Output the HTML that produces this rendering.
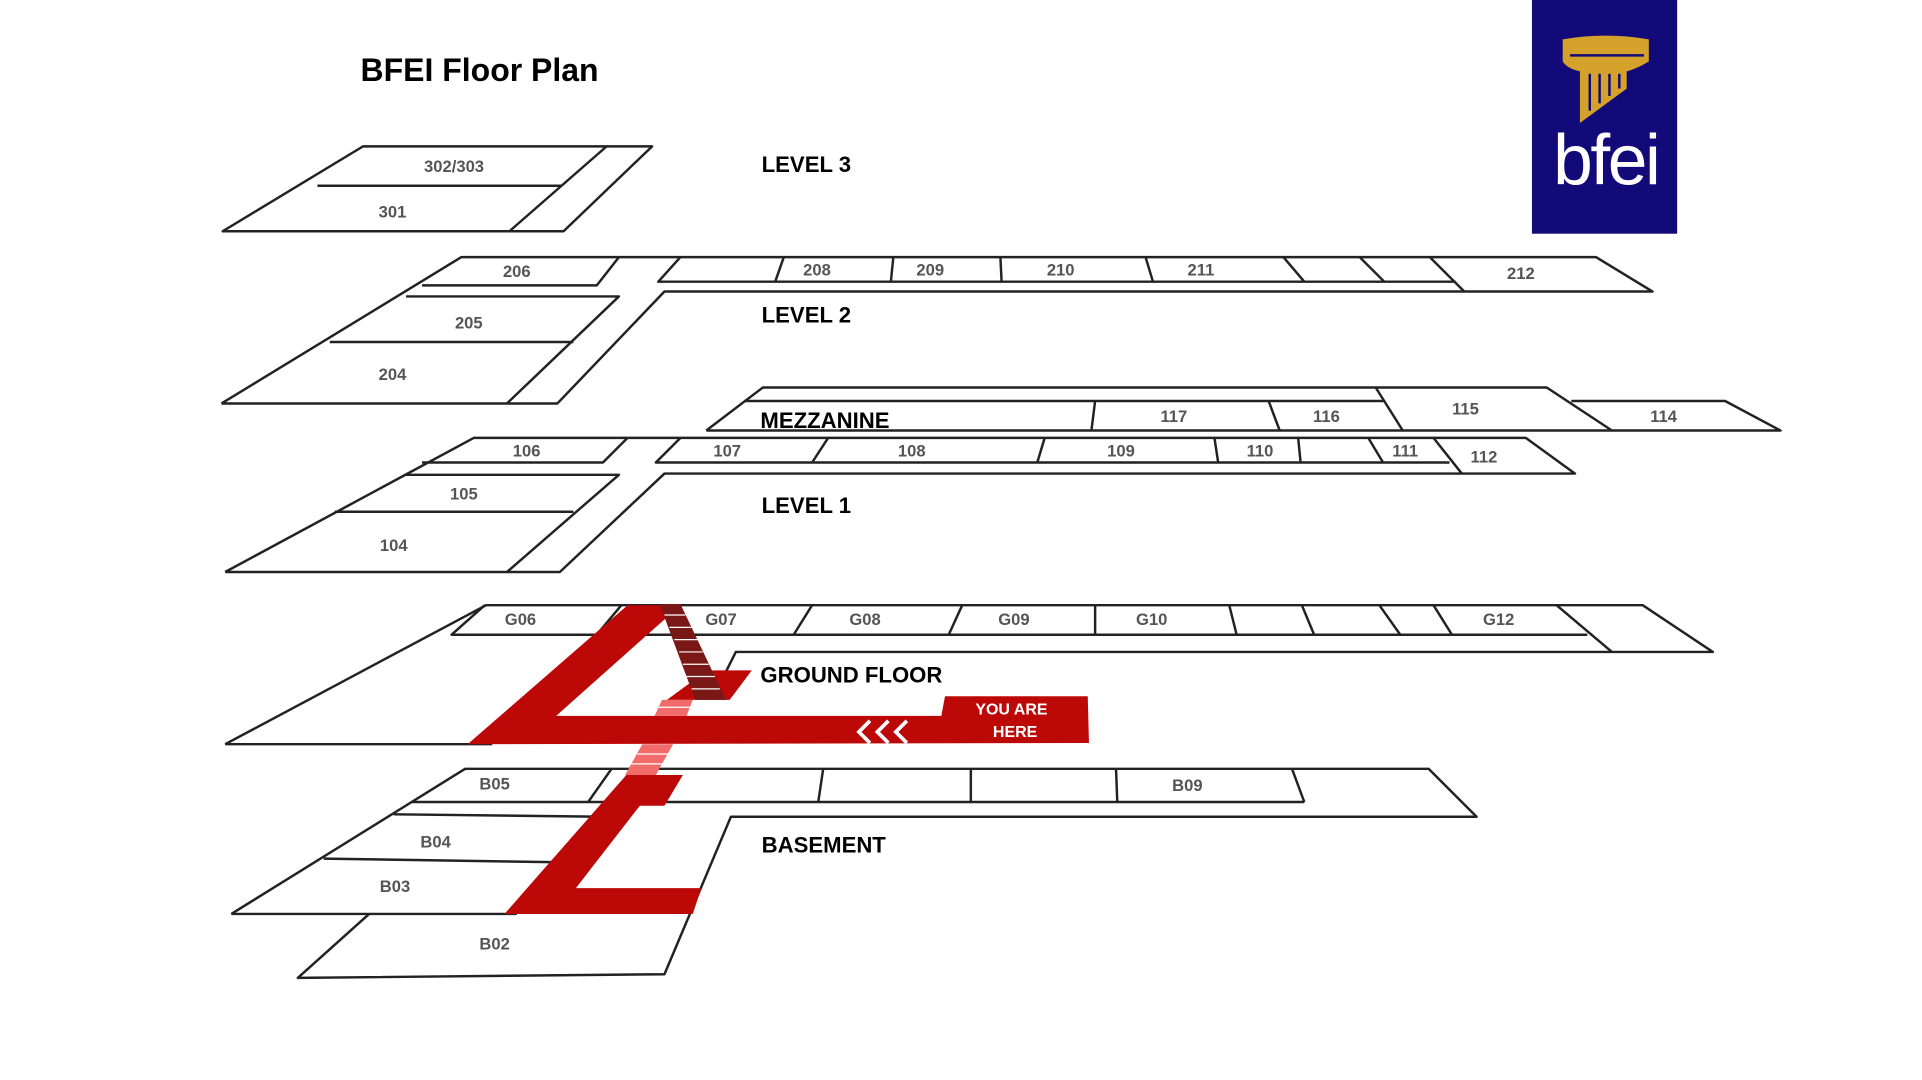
<!DOCTYPE html>
<html><head><meta charset="utf-8"><style>
html,body{margin:0;padding:0;background:#fff;}
svg{display:block;}
.l{fill:none;stroke:#222;stroke-width:2;stroke-linejoin:round;}
.t{font-family:"Liberation Sans",sans-serif;font-size:13.5px;font-weight:bold;fill:#555;text-anchor:middle;}
.h{font-family:"Liberation Sans",sans-serif;font-size:18px;font-weight:bold;fill:#000;}
</style></head><body>
<svg width="1922" height="1080" viewBox="0 0 1562 878" preserveAspectRatio="none" xmlns="http://www.w3.org/2000/svg">
<text x="293" y="66" class="h" style="font-size:26px">BFEI Floor Plan</text>

<!-- logo -->
<rect x="1245" y="0" width="118" height="190" fill="#120a78"/>
<path d="M1270 32 Q1305 26 1340 32 L1340 50 Q1330 56 1322 58 L1322 72 L1284 100 L1284 58 Q1274 56 1270 50 Z" fill="#d4a12a"/>
<g stroke="#120a78" stroke-width="2"><line x1="1292" y1="60" x2="1292" y2="90"/><line x1="1300" y1="60" x2="1300" y2="84"/><line x1="1308" y1="60" x2="1308" y2="78"/><line x1="1316" y1="60" x2="1316" y2="72"/><line x1="1276" y1="45" x2="1336" y2="45"/></g>
<text x="1305" y="150" font-family="'Liberation Sans',sans-serif" font-size="58" fill="#fff" text-anchor="middle" letter-spacing="-2">bfei</text>

<!-- LEVEL 3 -->
<polygon class="l" points="181,188 295,119 530,119 458,188"/>
<line class="l" x1="258" y1="151" x2="456" y2="151"/>
<line class="l" x1="493" y1="119" x2="414" y2="188"/>
<text x="369" y="140" class="t">302/303</text><text x="319" y="177" class="t">301</text>
<text x="619" y="140" class="h">LEVEL 3</text>

<!-- LEVEL 2 -->
<polyline class="l" points="180,328 375,209 1297,209 1343,237 540,237 453,328 180,328"/>
<polyline class="l" points="343,232 485,232 503,209"/>
<polyline class="l" points="330,241 503,241 412,328"/>
<line class="l" x1="268" y1="278" x2="466" y2="278"/>
<polyline class="l" points="553,209 535,229 1183,229"/>
<g class="l"><line x1="637" y1="209" x2="630" y2="229"/><line x1="726" y1="209" x2="724" y2="229"/><line x1="813" y1="209" x2="814" y2="229"/><line x1="931" y1="209" x2="937" y2="229"/><line x1="1043" y1="209" x2="1060" y2="229"/><line x1="1105" y1="209" x2="1125" y2="229"/><line x1="1162" y1="209" x2="1190" y2="237"/></g>
<text x="420" y="225" class="t">206</text><text x="664" y="224" class="t">208</text><text x="756" y="224" class="t">209</text><text x="862" y="224" class="t">210</text><text x="976" y="224" class="t">211</text><text x="1236" y="227" class="t">212</text>
<text x="381" y="267" class="t">205</text><text x="319" y="309" class="t">204</text>
<text x="619" y="262" class="h">LEVEL 2</text>

<!-- MEZZANINE -->
<polyline class="l" points="574,350 620,315 1257,315 1310,350"/>
<polyline class="l" points="1277,326 1402,326 1447,350 574,350"/>
<line class="l" x1="605" y1="326" x2="1125" y2="326"/>
<g class="l"><line x1="890" y1="326" x2="887" y2="350"/><line x1="1031" y1="326" x2="1040" y2="350"/><line x1="1118" y1="315" x2="1140" y2="350"/></g>
<text x="618" y="348" class="h">MEZZANINE</text>
<text x="954" y="343" class="t">117</text><text x="1078" y="343" class="t">116</text><text x="1191" y="337" class="t">115</text><text x="1352" y="343" class="t">114</text>

<!-- LEVEL 1 -->
<polyline class="l" points="183,465 385,356 1240,356 1280,385 540,385 455,465 183,465"/>
<polyline class="l" points="343,376 490,376 510,356"/>
<polyline class="l" points="330,386 503,386 412,465"/>
<line class="l" x1="272" y1="416" x2="466" y2="416"/>
<polyline class="l" points="553,356 533,376 1178,376"/>
<g class="l"><line x1="673" y1="356" x2="660" y2="376"/><line x1="849" y1="356" x2="843" y2="376"/><line x1="987" y1="356" x2="990" y2="376"/><line x1="1055" y1="356" x2="1057" y2="376"/><line x1="1112" y1="356" x2="1124" y2="376"/><line x1="1165" y1="356" x2="1188" y2="385"/></g>
<text x="428" y="371" class="t">106</text><text x="591" y="371" class="t">107</text><text x="741" y="371" class="t">108</text><text x="911" y="371" class="t">109</text><text x="1024" y="371" class="t">110</text><text x="1142" y="371" class="t">111</text><text x="1206" y="376" class="t">112</text>
<text x="377" y="406" class="t">105</text><text x="320" y="448" class="t">104</text>
<text x="619" y="417" class="h">LEVEL 1</text>

<!-- GROUND -->
<polyline class="l" points="183,605 395,492 1335,492 1392,530 598,530 583,560"/>
<line class="l" x1="183" y1="605" x2="400" y2="605"/>
<polyline class="l" points="394,492 367,516 1290,516"/>
<g class="l"><line x1="505" y1="492" x2="485" y2="516"/><line x1="660" y1="492" x2="645" y2="516"/><line x1="782" y1="492" x2="771" y2="516"/><line x1="890" y1="492" x2="890" y2="516"/><line x1="999" y1="492" x2="1005" y2="516"/><line x1="1058" y1="492" x2="1068" y2="516"/><line x1="1121" y1="492" x2="1138" y2="516"/><line x1="1165" y1="492" x2="1180" y2="516"/><line x1="1265" y1="492" x2="1310" y2="530"/></g>
<text x="423" y="508" class="t">G06</text><text x="586" y="508" class="t">G07</text><text x="703" y="508" class="t">G08</text><text x="824" y="508" class="t">G09</text><text x="936" y="508" class="t">G10</text><text x="1218" y="508" class="t">G12</text>
<text x="618" y="555" class="h">GROUND FLOOR</text>

<!-- BASEMENT -->
<polyline class="l" points="188,743 378,625 1161,625 1200,664 594,664 540,792 242,795 300,743"/>
<line class="l" x1="188" y1="743" x2="420" y2="743"/>
<polyline class="l" points="335,652 1060,652"/>
<g class="l"><line x1="497" y1="625" x2="478" y2="652"/><line x1="669" y1="625" x2="665" y2="652"/><line x1="789" y1="625" x2="789" y2="652"/><line x1="907" y1="625" x2="908" y2="652"/><line x1="1050" y1="625" x2="1060" y2="652"/></g>
<line class="l" x1="320" y1="662" x2="490" y2="664"/>
<line class="l" x1="263" y1="698" x2="455" y2="701"/>
<text x="402" y="642" class="t">B05</text><text x="354" y="689" class="t">B04</text><text x="321" y="725" class="t">B03</text><text x="402" y="772" class="t">B02</text><text x="965" y="643" class="t">B09</text>
<text x="619" y="693" class="h">BASEMENT</text>

<!-- red path -->
<polygon fill="#bd0808" points="510,492 553,492 452,582 765,582 768,566 884,566 885,604 380,605"/>
<polygon fill="#bd0808" points="579,545 611,545 593,569 565,569"/>
<polygon fill="#bd0808" points="542,569 561,555 565,569"/>
<polygon fill="#7a1717" points="536,491 553,491 590,569 565,569"/>
<g stroke="#fff" stroke-width="1"><line x1="540" y1="500" x2="557" y2="500"/><line x1="544" y1="510" x2="562" y2="510"/><line x1="548" y1="520" x2="567" y2="520"/><line x1="552" y1="530" x2="571" y2="530"/><line x1="555" y1="540" x2="576" y2="540"/><line x1="558" y1="550" x2="581" y2="550"/><line x1="562" y1="560" x2="585" y2="560"/></g>
<polygon fill="#f26b6b" points="538,569 563,569 558,582 532,582"/>
<polygon fill="#f26b6b" points="522,605 547,605 533,630 508,630"/>
<g stroke="#fff" stroke-width="1"><line x1="535" y1="575" x2="561" y2="575"/><line x1="518" y1="613" x2="543" y2="613"/><line x1="513" y1="621" x2="539" y2="621"/></g>
<polygon fill="#bd0808" points="509,630 555,630 540,655 520,655 468,722 570,722 563,743 410,743"/>
<g fill="none" stroke="#fff" stroke-width="3"><polyline points="707,586 698,595 707,604"/><polyline points="722,586 713,595 722,604"/><polyline points="737,586 728,595 737,604"/></g>
<text x="822" y="581" font-family="'Liberation Sans',sans-serif" font-size="13" font-weight="bold" fill="#fff" text-anchor="middle">YOU ARE</text>
<text x="825" y="599" font-family="'Liberation Sans',sans-serif" font-size="13" font-weight="bold" fill="#fff" text-anchor="middle">HERE</text>
</svg>
</body></html>
